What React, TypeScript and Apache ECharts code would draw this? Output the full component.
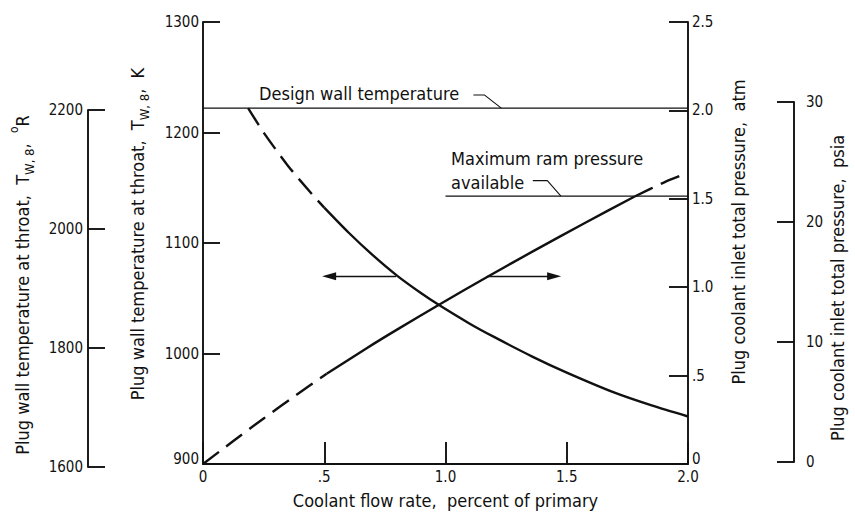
import React, { useEffect, useRef } from "react";
import * as echarts from "echarts";

// ---- data ----
const xTickValues = [0, 0.5, 1.0, 1.5, 2.0];
const xTickLabels = ["0", ".5", "1.0", "1.5", "2.0"];
const kTickValues = [900, 1000, 1100, 1200, 1300];
const kTickLabels = ["900", "1000", "1100", "1200", "1300"];
const atmTickValues = [0, 0.5, 1.0, 1.5, 2.0, 2.5];
const atmTickLabels = ["0", ".5", "1.0", "1.5", "2.0", "2.5"];
const rTickValues = [1600, 1800, 2000, 2200];
const rTickLabels = ["1600", "1800", "2000", "2200"];
const psiaTickValues = [0, 10, 20, 30];
const psiaTickLabels = ["0", "10", "20", "30"];

// wall temperature (K) vs coolant flow (percent of primary)
const tempDashed = [
  [0.186, 1222], [0.25, 1200], [0.35, 1170], [0.45, 1144], [0.5, 1132],
];
const tempSolid = [
  [0.5, 1132], [0.6, 1109.5], [0.7, 1089], [0.8, 1070.5], [0.9, 1054.5], [0.975, 1043.6],
  [1.1, 1027], [1.2, 1015], [1.36, 997], [1.5, 982.7], [1.7, 964.3], [1.85, 953], [2.0, 943],
];
// coolant inlet total pressure (atm) vs coolant flow
const presDashedLow = [
  [0, 0], [0.125, 0.13], [0.25, 0.2575], [0.386, 0.392], [0.51, 0.51],
];
const presSolid = [
  [0.51, 0.51], [0.675, 0.655], [0.8, 0.76], [0.975, 0.902], [1.177, 1.062],
  [1.362, 1.204], [1.569, 1.359], [1.78, 1.513],
];
const presDashedHigh = [
  [1.78, 1.513], [1.9, 1.592], [2.0, 1.647],
];

const designWallTempK = 1222;
const designLine = [[0, designWallTempK], [2.0, designWallTempK]];
const maxRamPressureAtm = 1.515;
const ramLine = [[1.0, maxRamPressureAtm], [2.0, maxRamPressureAtm]];
const designLeader = [[1.115, 1234], [1.16, 1234], [1.23, designWallTempK]];
const ramLeader = [[1.36, 1.603], [1.42, 1.603], [1.476, maxRamPressureAtm]];
const arrowLevelK = 1070;
const leftArrow = [0.796, 0.52];
const rightArrow = [1.17, 1.448];

const FONT = "'DejaVu Sans Condensed', 'Liberation Sans Narrow', 'DejaVu Sans', sans-serif";
const INK = "#111";
const TICK_SIZE = 15;
const TITLE_SIZE = 18;

function fmt(values: number[], labels: string[], lowMin = false) {
  return (v: number) => {
    const i = values.findIndex((t) => Math.abs(t - v) < 1e-6);
    if (i < 0) return "";
    return lowMin && i === 0 ? `{lo|${labels[i]}}` : labels[i];
  };
}

const axisLine = { show: true, lineStyle: { color: INK, width: 1.9 } };
const tickLabel = {
  color: INK,
  fontFamily: FONT,
  fontSize: TICK_SIZE,
  rich: { lo: { color: INK, fontFamily: FONT, fontSize: TICK_SIZE, padding: [0, 0, 10, 0] } },
};

const richDefs = {
  n: { fontSize: TITLE_SIZE, fontFamily: FONT, lineHeight: 28, verticalAlign: "middle", color: INK },
  sub: { fontSize: 13, fontFamily: FONT, lineHeight: 28, verticalAlign: "bottom", color: INK },
  sup: { fontSize: 12, fontFamily: FONT, lineHeight: 28, verticalAlign: "top", color: INK },
};

function vText(x: number, y: number, text: string) {
  return {
    type: "text",
    x,
    y,
    rotation: Math.PI / 2,
    style: {
      text,
      rich: richDefs,
      textAlign: "center",
      textVerticalAlign: "middle",
      align: "center",
      verticalAlign: "middle",
      fill: INK,
    },
    silent: true,
  };
}

function hText(x: number, y: number, text: string) {
  return {
    type: "text",
    x,
    y,
    style: {
      text,
      font: `${TITLE_SIZE}px ${FONT}`,
      fontSize: TITLE_SIZE,
      fontFamily: FONT,
      textAlign: "left",
      textVerticalAlign: "middle",
      align: "left",
      verticalAlign: "middle",
      fill: INK,
    },
    silent: true,
  };
}

export default function App() {
  const ref = useRef<HTMLDivElement>(null);

  useEffect(() => {
    if (!ref.current) return;
    const chart = echarts.init(ref.current, null, { renderer: "svg" });

    const curve = (data: number[][], yIdx: number, dashed: boolean, width = 2.4) => ({
      type: "line",
      xAxisIndex: 0,
      yAxisIndex: yIdx,
      data,
      showSymbol: false,
      symbol: "none",
      smooth: 0.25,
      silent: true,
      lineStyle: { color: INK, width, type: dashed ? [20, 9] : "solid", cap: "butt" },
    });
    const straight = (data: number[][], yIdx: number, width = 1.3) => ({
      type: "line",
      xAxisIndex: 0,
      yAxisIndex: yIdx,
      data,
      showSymbol: false,
      symbol: "none",
      silent: true,
      lineStyle: { color: INK, width },
    });
    const tick = (length: number) => ({
      show: true,
      inside: true,
      length,
      lineStyle: { color: INK, width: 1.9 },
    });

    chart.setOption({
      animation: false,
      backgroundColor: "#fff",
      textStyle: { fontFamily: FONT },
      grid: [
        { left: 203, right: 167, top: 22, bottom: 47 },
        { left: 88, width: 10, top: 110, bottom: 47 },
        { left: 794, width: 10, top: 102, bottom: 52 },
      ],
      xAxis: [
        {
          type: "value",
          gridIndex: 0,
          min: 0,
          max: 2,
          interval: 0.5,
          axisLine,
          axisTick: tick(22),
          axisLabel: { ...tickLabel, margin: 5, formatter: fmt(xTickValues, xTickLabels) },
          splitLine: { show: false },
          name: "Coolant flow rate,  percent of primary",
          nameLocation: "middle",
          nameGap: 27,
          nameTextStyle: { color: INK, fontFamily: FONT, fontSize: TITLE_SIZE },
        },
        { type: "value", gridIndex: 1, show: false, min: 0, max: 1 },
        { type: "value", gridIndex: 2, show: false, min: 0, max: 1 },
      ],
      yAxis: [
        {
          type: "value",
          gridIndex: 0,
          position: "left",
          min: 900,
          max: 1300,
          interval: 100,
          axisLine,
          axisTick: tick(17),
          axisLabel: { ...tickLabel, margin: 4, formatter: fmt(kTickValues, kTickLabels, true) },
          splitLine: { show: false },
        },
        {
          type: "value",
          gridIndex: 0,
          position: "right",
          min: 0,
          max: 2.5,
          interval: 0.5,
          axisLine,
          axisTick: tick(19),
          axisLabel: { ...tickLabel, margin: 4, formatter: fmt(atmTickValues, atmTickLabels, true) },
          splitLine: { show: false },
        },
        {
          type: "value",
          gridIndex: 1,
          position: "left",
          min: 1600,
          max: 2200,
          interval: 200,
          axisLine,
          axisTick: tick(17),
          axisLabel: { ...tickLabel, margin: 5, formatter: fmt(rTickValues, rTickLabels) },
          splitLine: { show: false },
        },
        {
          type: "value",
          gridIndex: 2,
          position: "right",
          min: 0,
          max: 30,
          interval: 10,
          axisLine,
          axisTick: tick(17),
          axisLabel: { ...tickLabel, margin: 2, formatter: fmt(psiaTickValues, psiaTickLabels) },
          splitLine: { show: false },
        },
      ],
      series: [
        curve(tempDashed, 0, true),
        curve(tempSolid, 0, false),
        curve(presDashedLow, 1, true),
        curve(presSolid, 1, false),
        curve(presDashedHigh, 1, true),
        straight(designLine, 0),
        straight(ramLine, 1),
        straight(designLeader, 0, 1.1),
        straight(ramLeader, 1, 1.1),
        {
          type: "line",
          xAxisIndex: 0,
          yAxisIndex: 0,
          data: [],
          silent: true,
          markLine: {
            silent: true,
            animation: false,
            symbol: ["none", "triangle"],
            symbolSize: [8, 14],
            label: { show: false },
            lineStyle: { color: INK, width: 1.3, type: "solid" },
            data: [
              [{ coord: [leftArrow[0], arrowLevelK] }, { coord: [leftArrow[1], arrowLevelK] }],
              [{ coord: [rightArrow[0], arrowLevelK] }, { coord: [rightArrow[1], arrowLevelK] }],
            ],
          },
        },
      ],
      graphic: [
        vText(22, 285, "{n|Plug wall temperature at throat,  T}{sub|W, 8}{n|,  }{sup|o}{n|R}"),
        vText(137, 234, "{n|Plug wall temperature at throat,  T}{sub|W, 8}{n|,  K}"),
        vText(738, 232, "{n|Plug coolant inlet total pressure,  atm}"),
        vText(837, 288, "{n|Plug coolant inlet total pressure,  psia}"),
        hText(259, 93, "Design wall temperature"),
        hText(451, 158, "Maximum ram pressure"),
        hText(451, 182, "available"),
      ],
    });

    return () => chart.dispose();
  }, []);

  return (
    <div
      ref={ref}
      style={{ position: "absolute", left: 0, top: 0, width: 855, height: 514, background: "#fff" }}
    />
  );
}
